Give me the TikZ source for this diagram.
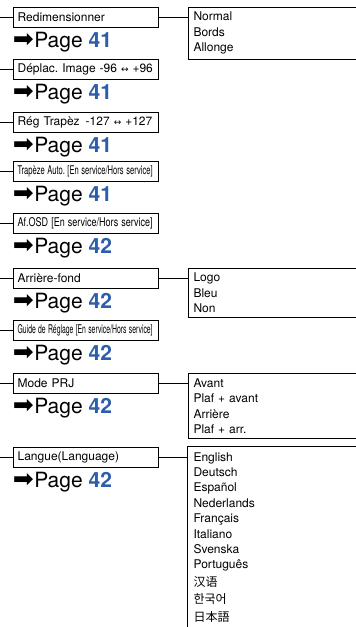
\documentclass[tikz,border=0pt]{standalone}
\usepackage{graphicx}
\usepackage{xcolor}
\usepackage{fontspec}
\setmainfont{TeX Gyre Heros}
\newfontfamily\symbfont{DejaVu Sans}
\newfontfamily\zhfont{Noto Sans CJK SC}
\newfontfamily\kofont{Noto Sans CJK KR}
\newfontfamily\jafont{Noto Sans CJK JP}
\usetikzlibrary{positioning}
\frenchspacing

\definecolor{pageblue}{RGB}{44,94,170}
\newcommand{\gotopage}[1]{{\symbfont\fontsize{25}{25}\selectfont ➡}\kern0.5pt Page {\bfseries\color{pageblue}#1}}
\newcommand{\squeeze}[1]{\resizebox{135pt}{\height}{#1}}
\newcommand{\lr}{{\symbfont\fontsize{9}{9}\selectfont ↔}}

\begin{document}
\begin{tikzpicture}[
    x=1pt, y=1pt,
    font=\fontsize{12}{14}\selectfont,
    item/.style={draw, line width=0.9pt, minimum height=20pt,
                 text width=136pt, inner xsep=4.5pt, align=left},
    choices/.style={draw, line width=0.9pt, text width=200pt,
                    inner xsep=5.5pt, inner ysep=5pt, align=left,
                    font=\fontsize{12}{15.4}\selectfont},
    goto/.style={inner sep=0pt, font=\fontsize{21}{24}\selectfont,
                 below=30pt of #1.west, anchor=base west},
    wire/.style={line width=0.9pt}
]
\useasboundingbox (0,0) rectangle (356,-627);
\clip (0,0) rectangle (356,-627);
\coordinate (edge)  at (0,0);
\coordinate (floor) at (0,-627);
% --- menu items ---------------------------------------------------------
\node[item, anchor=west] (r1) at (12.7,-17) {Redimensionner};
\node[goto=r1] (p1) {\gotopage{41}};
\node[item, below=52.7pt of r1.west, anchor=west] (r2)
    {Déplac.~Image~-96~\lr~+96};
\node[goto=r2] (p2) {\gotopage{41}};
\node[item, below=52.8pt of r2.west, anchor=west] (r3)
    {Rég~Trapèz\enspace-127~\lr~+127};
\node[goto=r3] (p3) {\gotopage{41}};
\node[item, below=49.2pt of r3.west, anchor=west] (r4)
    {\squeeze{Trapèze Auto. [En service/Hors service]}};
\node[goto=r4] (p4) {\gotopage{41}};
\node[item, below=51.6pt of r4.west, anchor=west] (r5)
    {\squeeze{Af.OSD [En service/Hors service]}};
\node[goto=r5] (p5) {\gotopage{42}};
\node[item, below=54.7pt of r5.west, anchor=west] (r6) {Arrière-fond};
\node[goto=r6] (p6) {\gotopage{42}};
\node[item, below=52pt of r6.west, anchor=west] (r7)
    {\squeeze{Guide de Réglage [En service/Hors service]}};
\node[goto=r7] (p7) {\gotopage{42}};
\node[item, below=53.5pt of r7.west, anchor=west] (r8) {Mode PRJ};
\node[goto=r8] (p8) {\gotopage{42}};
\node[item, below=73.8pt of r8.west, anchor=west] (r9) {Langue(Language)};
\node[goto=r9] (p9) {\gotopage{42}};
% --- settings -----------------------------------------------------------
\node[choices, right=29pt of r1.north east, anchor=north west] (o1)
    {Normal\\Bords\\Allonge};
\node[choices, right=29pt of r6.north east, anchor=north west] (o6)
    {Logo\\Bleu\\Non};
\node[choices, right=29pt of r8.north east, anchor=north west] (o8)
    {Avant\\Plaf + avant\\Arrière\\Plaf + arr.};
\node[choices, draw=none, right=29pt of r9.north east, anchor=north west] (o9)
    {English\\Deutsch\\Español\\Nederlands\\Français\\Italiano\\Svenska\\Português\\[2pt]
     {\zhfont 汉语}\\[2pt]{\kofont 한국어}\\[2pt]{\jafont 日本語}};
% --- wires --------------------------------------------------------------
\draw[wire] (edge |- r1.west) -- (r1.west);
\draw[wire] (edge |- r2.west) -- (r2.west);
\draw[wire] (edge |- r3.west) -- (r3.west);
\draw[wire] (edge |- r4.west) -- (r4.west);
\draw[wire] (edge |- r5.west) -- (r5.west);
\draw[wire] (edge |- r6.west) -- (r6.west);
\draw[wire] (edge |- r7.west) -- (r7.west);
\draw[wire] (edge |- r8.west) -- (r8.west);
\draw[wire] (edge |- r9.west) -- (r9.west);
\draw[wire] (r1.east) -- (r1.east -| o1.west);
\draw[wire] (r6.east) -- (r6.east -| o6.west);
\draw[wire] (r8.east) -- (r8.east -| o8.west);
\draw[wire] (r9.east) -- (r9.east -| o9.west);
\draw[wire] (o9.north east) -- (o9.north west) -- (o9.north west |- floor);
\end{tikzpicture}
\end{document}
